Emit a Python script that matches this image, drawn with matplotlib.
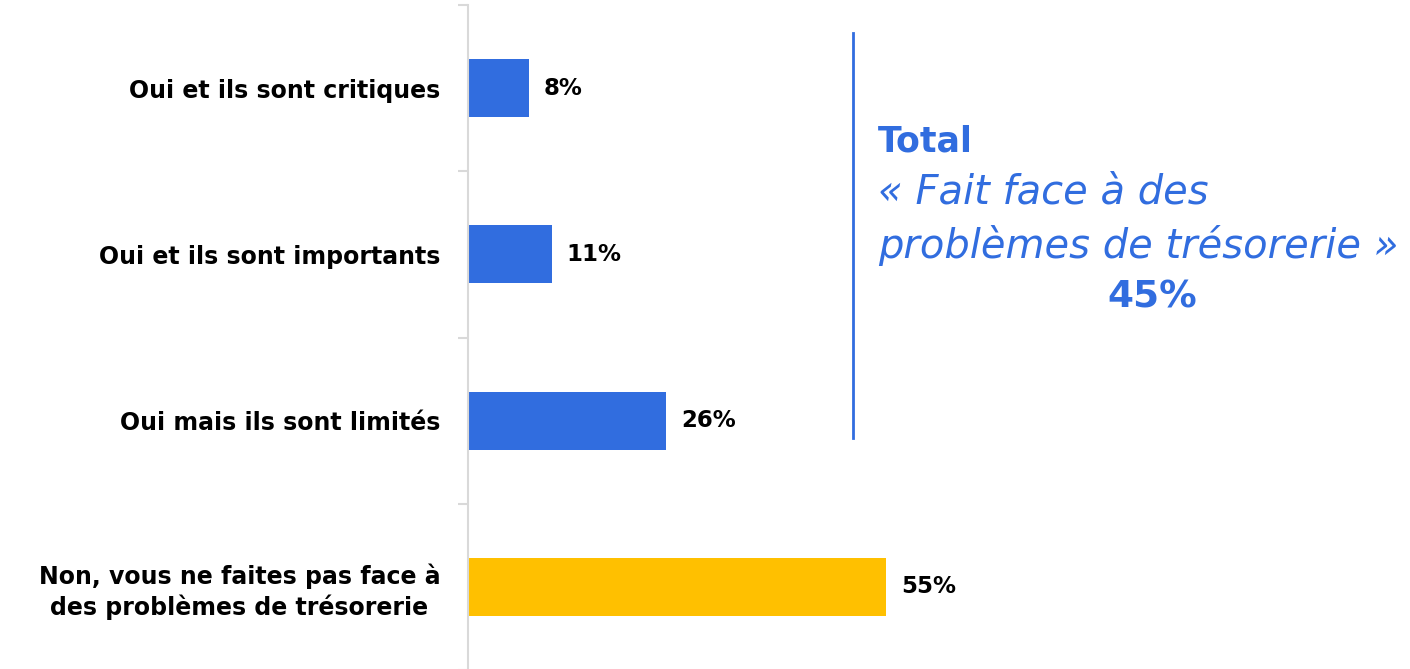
import numpy as np
import matplotlib.pyplot as plt

labels = ['Oui et ils sont critiques',
          'Oui et ils sont importants',
          'Oui mais ils sont limités',
          'Non, vous ne faites pas face à\ndes problèmes de trésorerie']
values = [8, 11, 26, 55]
colors = ['#316DDF', '#316DDF', '#316DDF', '#FFC000']
total_label = '45%'

blue = '#316DDF'
plt.rcParams['font.family'] = ['DejaVu Sans']

fig = plt.figure(figsize=(14.1, 6.69), dpi=100)
ax = fig.add_axes([468 / 1410, -1 / 669, 942 / 1410, 665 / 669])

y = np.arange(len(labels))
ax.barh(y, values, height=0.35, color=colors)
for yi, v in zip(y, values):
    ax.text(v + 2, yi, f'{v}%', va='center', ha='left',
            fontsize=16.5, fontweight='bold', color='black')

ax.set_xlim(0, 942 / 7.6)
ax.set_ylim(3.5, -0.5)
ax.set_yticks(y)
ax.set_yticklabels(labels, fontsize=17, fontweight='bold',
                   multialignment='center', linespacing=1.25)
ax.set_yticks(np.arange(-0.5, 3.6, 1), minor=True)
ax.tick_params(axis='y', which='major', length=0, pad=20)
ax.tick_params(axis='y', which='minor', length=7, color='#D9D9D9', width=1.5)
ax.set_xticks([])
for s in ['top', 'right', 'bottom']:
    ax.spines[s].set_visible(False)
ax.spines['left'].set_color('#D9D9D9')
ax.spines['left'].set_linewidth(1.5)

# encart total
fig.add_artist(plt.Line2D([853 / 1410, 853 / 1410], [1 - 33 / 669, 1 - 438 / 669],
                          color=blue, lw=2))
fig.text(878 / 1410, 1 - 142 / 669, 'Total', color=blue, fontsize=25,
         fontweight='bold', va='center', ha='left')
fig.text(878 / 1410, 1 - 192 / 669, '« Fait face à des', color=blue, fontsize=28.8,
         style='italic', va='center', ha='left')
fig.text(878 / 1410, 1 - 245 / 669, 'problèmes de trésorerie »', color=blue, fontsize=28.8,
         style='italic', va='center', ha='left')
fig.text(1152 / 1410, 1 - 298 / 669, total_label, color=blue, fontsize=27,
         fontweight='bold', va='center', ha='center')

fig.savefig('out.png', dpi=100)
